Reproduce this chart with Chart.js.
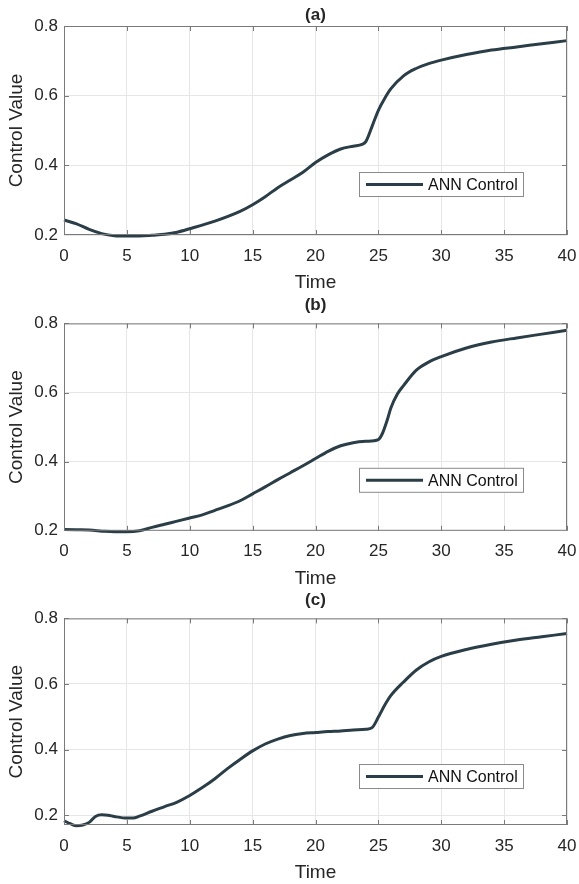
<!DOCTYPE html>
<html>
<head>
<meta charset="utf-8">
<script src="https://cdn.jsdelivr.net/npm/chart.js@4"></script>
<style>
  body { margin: 0; background: #fff; width: 579px; height: 884px; position: relative; overflow: hidden; }
  .panel { position: absolute; left: 0; width: 579px; }
</style>
</head>
<body>
<div class="panel" style="top:0;height:294px"><canvas id="chartA"></canvas></div>
<div class="panel" style="top:294px;height:296px"><canvas id="chartB"></canvas></div>
<div class="panel" style="top:588px;height:296px"><canvas id="chartC"></canvas></div>
<script>
const xTicks = [0, 5, 10, 15, 20, 25, 30, 35, 40];
const yTicks = [0.2, 0.4, 0.6, 0.8];
const seriesLabel = "ANN Control";

const timeA = [0, 1, 2, 3, 4, 5, 6, 7, 8, 9, 10, 12, 14, 15, 16, 17, 18, 19, 20, 21, 22, 23, 23.7, 24, 24.5, 25, 25.5, 26, 27, 28, 29, 30, 32, 34, 36, 38, 40];
const controlA = [0.243, 0.232, 0.216, 0.204, 0.198, 0.197, 0.197, 0.199, 0.202, 0.208, 0.218, 0.240, 0.268, 0.287, 0.310, 0.336, 0.358, 0.380, 0.408, 0.430, 0.447, 0.455, 0.460, 0.468, 0.512, 0.558, 0.592, 0.620, 0.657, 0.678, 0.692, 0.702, 0.718, 0.731, 0.740, 0.749, 0.758];

const timeB = [0, 1, 2, 3, 4, 5, 6, 7, 8, 9, 10, 11, 12, 13, 14, 15, 16, 17, 18, 19, 20, 21, 22, 23, 24, 25, 25.3, 25.7, 26, 26.5, 27, 28, 29, 30, 32, 34, 36, 38, 40];
const controlB = [0.204, 0.203, 0.202, 0.199, 0.197, 0.197, 0.200, 0.210, 0.219, 0.228, 0.237, 0.246, 0.259, 0.272, 0.287, 0.307, 0.327, 0.348, 0.368, 0.388, 0.409, 0.430, 0.446, 0.455, 0.459, 0.464, 0.480, 0.520, 0.556, 0.595, 0.620, 0.664, 0.688, 0.704, 0.729, 0.746, 0.758, 0.769, 0.780];

const timeC = [0, 0.5, 1, 1.5, 2, 2.5, 3, 3.5, 4, 5, 5.5, 6, 7, 8, 9, 10, 11, 12, 13, 14, 15, 16, 17, 18, 19, 20, 21, 22, 23, 24, 24.5, 25, 25.5, 26, 27, 28, 29, 30, 32, 34, 36, 38, 40];
const controlC = [0.183, 0.174, 0.168, 0.170, 0.178, 0.196, 0.201, 0.200, 0.196, 0.191, 0.191, 0.197, 0.212, 0.226, 0.240, 0.260, 0.284, 0.311, 0.342, 0.370, 0.396, 0.417, 0.432, 0.443, 0.449, 0.452, 0.455, 0.457, 0.460, 0.462, 0.467, 0.499, 0.535, 0.565, 0.606, 0.642, 0.667, 0.684, 0.705, 0.721, 0.734, 0.744, 0.754];

const FONT = "Arial, 'Liberation Sans', Helvetica, sans-serif";
const TEXT = "#262626";
const LINE = "#2b3e47";

// box, inward ticks and legend inside the axes (matlab look)
const axesBox = {
  id: "axesBox",
  afterDraw(chart, args, opts) {
    const { ctx, chartArea: a, scales } = chart;
    ctx.save();
    ctx.strokeStyle = "#7a7a7a";
    ctx.lineWidth = 1;
    ctx.strokeRect(a.left + 0.5, a.top + 0.5, a.right - a.left - 1, a.bottom - a.top - 1);
    ctx.beginPath();
    xTicks.forEach(v => {
      const x = Math.round(scales.x.getPixelForValue(v)) + 0.5;
      ctx.moveTo(x, a.bottom); ctx.lineTo(x, a.bottom - 5);
      ctx.moveTo(x, a.top); ctx.lineTo(x, a.top + 5);
    });
    yTicks.forEach(v => {
      const y = Math.round(scales.y.getPixelForValue(v)) + 0.5;
      if (y < a.top || y > a.bottom) return;
      ctx.moveTo(a.left, y); ctx.lineTo(a.left + 5, y);
      ctx.moveTo(a.right, y); ctx.lineTo(a.right - 5, y);
    });
    ctx.stroke();

    // legend
    const w = 165, h = 25;
    const bx = a.right - 43 - w, by = a.bottom - opts.bottom - h;
    ctx.fillStyle = "#fff";
    ctx.fillRect(bx, by, w, h);
    ctx.strokeStyle = "#8a8a8a";
    ctx.strokeRect(bx + 0.5, by + 0.5, w - 1, h - 1);
    ctx.strokeStyle = LINE;
    ctx.lineWidth = 3;
    ctx.beginPath();
    ctx.moveTo(bx + 7, by + h / 2);
    ctx.lineTo(bx + 64, by + h / 2);
    ctx.stroke();
    ctx.fillStyle = "#111";
    ctx.font = "16px " + FONT;
    ctx.textBaseline = "middle";
    ctx.fillText(chart.data.datasets[0].label, bx + 69, by + h / 2 + 1);
    ctx.restore();
  }
};

const panels = [
  { id: "chartA", title: "(a)", t: timeA, v: controlA, ymin: 0.2, titleY: 15, top: 26, bottom: 235, h: 294, legend: 38 },
  { id: "chartB", title: "(b)", t: timeB, v: controlB, ymin: 0.2, titleY: 11, top: 29.4, bottom: 236.8, h: 296, legend: 38 },
  { id: "chartC", title: "(c)", t: timeC, v: controlC, ymin: 0.17, titleY: 12, top: 30.4, bottom: 237, h: 296, legend: 36 }
];

panels.forEach(p => {
  new Chart(document.getElementById(p.id), {
    type: "line",
    data: {
      datasets: [{
        label: seriesLabel,
        data: p.t.map((t, i) => ({ x: t, y: p.v[i] })),
        borderColor: LINE,
        borderWidth: 3,
        pointRadius: 0,
        cubicInterpolationMode: "monotone",
        clip: 4,
        fill: false
      }]
    },
    options: {
      responsive: true,
      maintainAspectRatio: false,
      devicePixelRatio: 1,
      animation: false,
      layout: { padding: { left: 0, right: 12, top: 0, bottom: 0 } },
      plugins: {
        legend: { display: false },
        tooltip: { enabled: false },
        title: {
          display: true,
          text: p.title,
          fullSize: false,
          color: TEXT,
          font: { family: FONT, size: 17, weight: "bold" },
          padding: { top: p.titleY - 10.2, bottom: p.top - p.titleY - 10.2 }
        },
        axesBox: { bottom: p.legend }
      },
      scales: {
        x: {
          type: "linear",
          min: 0,
          max: 40,
          afterBuildTicks: s => { s.ticks = xTicks.map(v => ({ value: v })); },
          afterFit: s => { s.height = p.h - p.bottom; },
          grid: { color: "#e6e6e6", drawTicks: true, tickLength: 10, tickColor: "rgba(0,0,0,0)" },
          border: { display: false },
          ticks: { color: TEXT, padding: 0.8, maxRotation: 0, font: { family: FONT, size: 17 } },
          title: { display: true, text: "Time", color: TEXT, font: { family: FONT, size: 19 }, padding: { top: p.h - p.bottom - 56.4, bottom: 0 } }
        },
        y: {
          type: "linear",
          min: p.ymin,
          max: 0.8,
          afterBuildTicks: s => { s.ticks = yTicks.map(v => ({ value: v })); },
          afterFit: s => { s.width = 64; },
          grid: { color: "#e6e6e6", drawTicks: false },
          border: { display: false },
          ticks: { color: TEXT, padding: 6, font: { family: FONT, size: 17 }, callback: v => v.toFixed(1) },
          title: { display: true, text: "Control Value", color: TEXT, font: { family: FONT, size: 19 }, padding: { top: 5.6, bottom: 0 } }
        }
      }
    },
    plugins: [axesBox]
  });
});
</script>
</body>
</html>
